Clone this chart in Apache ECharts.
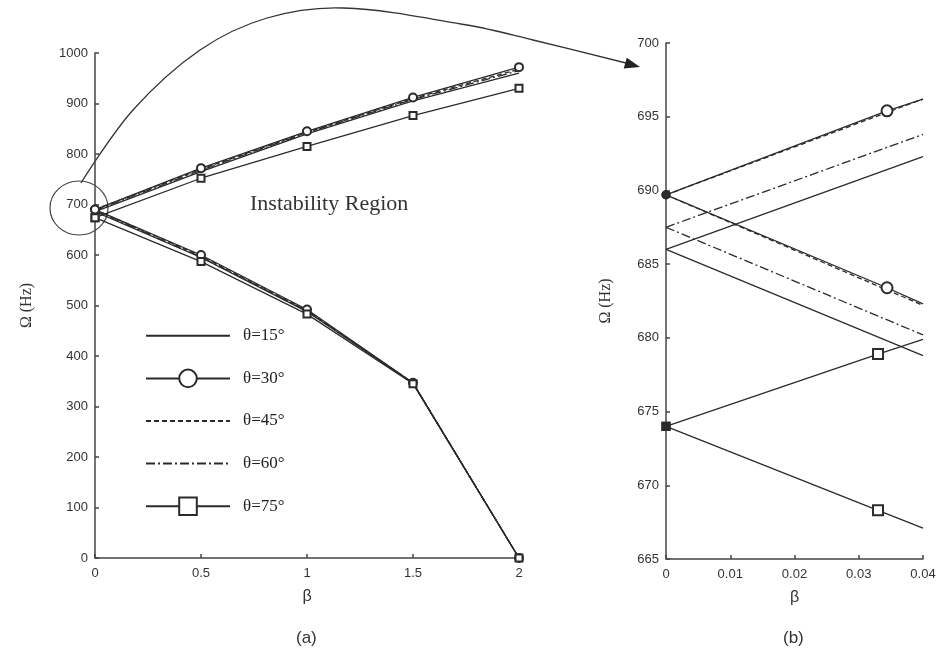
<!DOCTYPE html>
<html>
<head>
<meta charset="utf-8">
<script src="https://cdn.jsdelivr.net/npm/echarts@6/dist/echarts.min.js"></script>
<style>
  html, body { margin: 0; padding: 0; background: #fff; }
  #chart { width: 941px; height: 652px; }
</style>
</head>
<body>
<div id="chart"></div>
<script>
// ---- (a) natural frequency branches vs. beta ----
const betaA = [0, 0.5, 1, 1.5, 2];
const thetaLabels = ['θ=15°', 'θ=30°', 'θ=45°', 'θ=60°', 'θ=75°'];

const upperA15 = [686, 765, 840, 905, 960];
const lowerA15 = [686, 595, 488, 346, 0];
const upperA30 = [690, 772, 845, 912, 972];
const lowerA30 = [690, 600, 492, 347, 0];
const upperA45 = [690, 770, 843, 910, 968];
const lowerA45 = [690, 598, 490, 347, 0];
const upperA60 = [688, 768, 842, 908, 965];
const lowerA60 = [688, 596, 489, 346, 0];
const upperA75 = [674, 752, 815, 876, 930];
const lowerA75 = [674, 587, 483, 345, 0];

// ---- (b) close-up of the branches near beta = 0 ----
const betaB = [0, 0.04];
const upperB15 = [686.0, 692.3];
const lowerB15 = [686.0, 678.8];
const upperB30 = [689.7, 696.2];
const lowerB30 = [689.7, 682.3];
const upperB45 = [689.7, 696.2];
const lowerB45 = [689.7, 682.2];
const upperB60 = [687.5, 693.8];
const lowerB60 = [687.5, 680.2];
const upperB75 = [674.0, 679.9];
const lowerB75 = [674.0, 667.1];
// marked points: [beta, upper, lower]
const markB30 = [0.0344, 695.4, 683.4];
const markB75 = [0.033, 678.9, 668.3];

const ink = '#2b2b2b';
const serif = 'Liberation Serif';
const sans = 'Liberation Sans';

const styleA = [
  { symbol: 'none', dash: 'solid', size: 0, origin: 'none' },
  { symbol: 'emptyCircle', dash: 'solid', size: 8, origin: 'circle' },
  { symbol: 'none', dash: [5, 3], size: 0, origin: 'none' },
  { symbol: 'none', dash: [9, 3, 2, 3], size: 0, origin: 'none' },
  { symbol: 'emptyRect', dash: 'solid', size: 7, origin: 'rect' }
];
const branchesA = [
  [upperA15, lowerA15], [upperA30, lowerA30], [upperA45, lowerA45],
  [upperA60, lowerA60], [upperA75, lowerA75]
];
const branchesB = [
  [upperB15, lowerB15], [upperB30, lowerB30], [upperB45, lowerB45],
  [upperB60, lowerB60], [upperB75, lowerB75]
];
const marksB = [null, markB30, null, null, markB75];
const markSizeB = [0, 11, 0, 0, 10];

function lineSeries(name, st, data, grid, symbolSize) {
  return {
    type: 'line',
    name: name,
    xAxisIndex: grid,
    yAxisIndex: grid,
    data: data,
    symbol: st.symbol,
    symbolSize: symbolSize,
    showSymbol: st.symbol !== 'none',
    lineStyle: { color: ink, width: 1.3, type: st.dash },
    itemStyle: { color: ink, borderColor: ink, borderWidth: 1.2 },
    emphasis: { disabled: true },
    z: 3
  };
}

const series = [];
thetaLabels.forEach((name, k) => {
  const st = styleA[k];
  branchesA[k].forEach(branch => {
    series.push(lineSeries(name, st, betaA.map((b, i) => [b, branch[i]]), 0, st.size));
  });
});
thetaLabels.forEach((name, k) => {
  const st = styleA[k];
  const mark = marksB[k];
  branchesB[k].forEach((branch, j) => {
    const pts = [{ value: [betaB[0], branch[0]], symbol: st.origin, symbolSize: 8 }];
    if (mark) pts.push([mark[0], mark[1 + j]]);
    pts.push({ value: [betaB[1], branch[1]], symbol: 'none' });
    series.push(lineSeries(name, st, pts, 1, markSizeB[k]));
  });
});

const axisLineStyle = { color: '#444', width: 1.5 };
const tickLabel = { color: '#333', fontSize: 13, fontFamily: sans, formatter: v => String(+v.toFixed(4)) };

function xAxisCfg(grid, max, interval) {
  return {
    type: 'value', gridIndex: grid, min: 0, max: max, interval: interval,
    name: 'β', nameLocation: 'middle', nameGap: 31,
    nameTextStyle: { color: '#333', fontSize: 16, fontFamily: sans },
    axisLine: { show: true, lineStyle: axisLineStyle },
    axisTick: { show: true, inside: true, length: 4, lineStyle: axisLineStyle },
    axisLabel: Object.assign({ margin: 9 }, tickLabel),
    splitLine: { show: false }
  };
}
function yAxisCfg(grid, min, max, interval, gap) {
  return {
    type: 'value', gridIndex: grid, min: min, max: max, interval: interval,
    name: 'Ω (Hz)', nameLocation: 'middle', nameGap: gap,
    nameTextStyle: { color: '#333', fontSize: 16, fontFamily: serif },
    axisLine: { show: true, lineStyle: axisLineStyle },
    axisTick: { show: true, inside: true, length: 4, lineStyle: axisLineStyle },
    axisLabel: Object.assign({ margin: 7 }, tickLabel),
    splitLine: { show: false }
  };
}

const chart = echarts.init(document.getElementById('chart'), null, { renderer: 'canvas' });
chart.setOption({
  animation: false,
  backgroundColor: '#fff',
  grid: [
    { left: 95, top: 53, width: 424, height: 505 },
    { left: 666, top: 43, width: 257, height: 516 }
  ],
  xAxis: [xAxisCfg(0, 2, 0.5), xAxisCfg(1, 0.04, 0.01)],
  yAxis: [yAxisCfg(0, 0, 1000, 100, 60), yAxisCfg(1, 665, 700, 5, 52)],
  legend: {
    // plain-line entries keep their line sample but hide the marker
    data: thetaLabels.map((name, k) => styleA[k].symbol === 'none'
      ? { name: name, itemStyle: { opacity: 0 } }
      : name),
    orient: 'vertical',
    left: 140,
    top: 321,
    itemWidth: 84,
    itemHeight: 22,
    itemGap: 23,
    selectedMode: false,
    textStyle: { color: '#222', fontSize: 17, fontFamily: serif, padding: [0, 0, 0, 8] }
  },
  graphic: [
    {
      type: 'ellipse', silent: true,
      shape: { cx: 79, cy: 208, rx: 29, ry: 27 },
      style: { fill: 'none', stroke: '#444', lineWidth: 1.2 }
    },
    {
      type: 'polyline', silent: true,
      shape: {
        smooth: 0.35,
        points: [[81, 183], [133, 110], [200, 50], [267, 18], [343, 8], [467, 25], [533, 40], [626, 63]]
      },
      style: { fill: 'none', stroke: '#333', lineWidth: 1.3 }
    },
    {
      type: 'polygon', silent: true,
      shape: { points: [[640, 67], [626.8, 57.8], [623.7, 68.4]] },
      style: { fill: '#222' }
    },
    {
      type: 'text', silent: true, left: 250, top: 193,
      style: { text: 'Instability Region', fill: '#333', font: '22px "Liberation Serif"' }
    },
    {
      type: 'text', silent: true, left: 296, top: 630,
      style: { text: '(a)', fill: '#333', font: '17px "Liberation Sans"' }
    },
    {
      type: 'text', silent: true, left: 783, top: 630,
      style: { text: '(b)', fill: '#333', font: '17px "Liberation Sans"' }
    }
  ],
  series: series
});
</script>
</body>
</html>
